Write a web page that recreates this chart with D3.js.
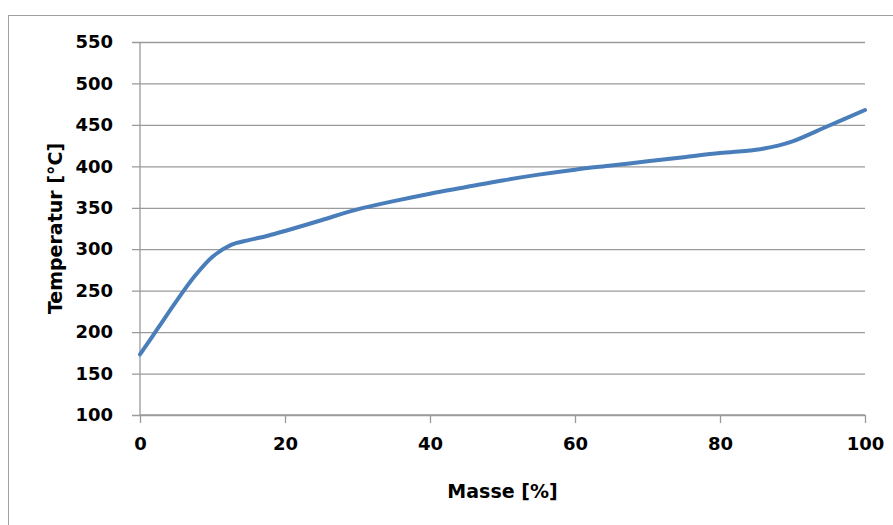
<!DOCTYPE html>
<html>
<head>
<meta charset="utf-8">
<script src="https://cdn.jsdelivr.net/npm/d3@7"></script>
<style>
   body { margin: 0; background: #fff; }
   .tick text { font-family: "DejaVu Sans", sans-serif; font-weight: bold; font-size: 18px; fill: #000; }
   .axisTitle { font-family: "DejaVu Sans", sans-serif; font-weight: bold; font-size: 19px; fill: #000; }
</style>
</head>
<body>
<div id="chart"></div>
<script>
const width = 893;
const height = 525;

// Masse [%] vs Temperatur [°C]
const masse = [0, 2.5, 5, 7.5, 10, 12.5, 15, 17.5, 20, 25, 30, 35, 40, 45, 50, 55, 60, 65, 70, 75, 80, 85, 88, 90, 95, 100];
const temperatur = [173, 205, 237, 267, 291, 305, 311, 316, 322, 335, 348, 358, 367, 375, 383, 390, 396, 401, 406, 411, 416, 420, 425, 430, 449, 468];

const xTicks = [0, 20, 40, 60, 80, 100];
const yTicks = [100, 150, 200, 250, 300, 350, 400, 450, 500, 550];

const margin = { top: 42, right: 28, bottom: 110, left: 140 };

const svg = d3.select("#chart").append("svg")
   .attr("width", width)
   .attr("height", height);

// outer frame
svg.append("rect")
   .attr("x", 8.5).attr("y", 15.5)
   .attr("width", width).attr("height", height)
   .style("fill", "none")
   .style("stroke", "#a0a0a0");

const x = d3.scaleLinear()
   .domain([0, 100])
   .range([margin.left, width - margin.right]);

const y = d3.scaleLinear()
   .domain([100, 550])
   .range([height - margin.bottom, margin.top]);

// gridlines + y axis
const yAxis = svg.append("g")
   .attr("transform", `translate(${margin.left},0)`)
   .call(d3.axisLeft(y).tickValues(yTicks).tickSize(8).tickPadding(18));
yAxis.select(".domain").remove();
yAxis.selectAll(".tick line")
   .attr("x2", x(100) - margin.left)
   .attr("x1", -8)
   .style("stroke", "#9a9a9a")
   .style("stroke-width", 1.3);
yAxis.selectAll(".tick text").attr("x", -27);

svg.append("line")
   .attr("x1", margin.left).attr("x2", margin.left)
   .attr("y1", y(550)).attr("y2", y(100))
   .style("stroke", "#9a9a9a")
   .style("stroke-width", 1.3);

const xAxis = svg.append("g")
   .attr("transform", `translate(0,${y(100)})`)
   .call(d3.axisBottom(x).tickValues(xTicks).tickSize(8).tickPadding(14));
xAxis.select(".domain").remove();
xAxis.selectAll(".tick line")
   .style("stroke", "#9a9a9a")
   .style("stroke-width", 1.3);

svg.append("line")
   .attr("x1", x(0)).attr("x2", x(100))
   .attr("y1", y(100)).attr("y2", y(100))
   .style("stroke", "#9a9a9a")
   .style("stroke-width", 1.3);

// curve
const line = d3.line()
   .x((d, i) => x(masse[i]))
   .y(d => y(d))
   .curve(d3.curveCatmullRom.alpha(0.5));

svg.append("path")
   .datum(temperatur)
   .attr("d", line)
   .style("fill", "none")
   .style("stroke", "#4a7ebb")
   .style("stroke-width", 4)
   .style("stroke-linecap", "round");

// axis titles
svg.append("text")
   .attr("class", "axisTitle")
   .attr("x", (x(0) + x(100)) / 2)
   .attr("y", 498)
   .style("text-anchor", "middle")
   .text("Masse [%]");

svg.append("text")
   .attr("class", "axisTitle")
   .attr("transform", `translate(62,${(y(100) + y(550)) / 2}) rotate(-90)`)
   .style("text-anchor", "middle")
   .text("Temperatur [°C]");
</script>
</body>
</html>
